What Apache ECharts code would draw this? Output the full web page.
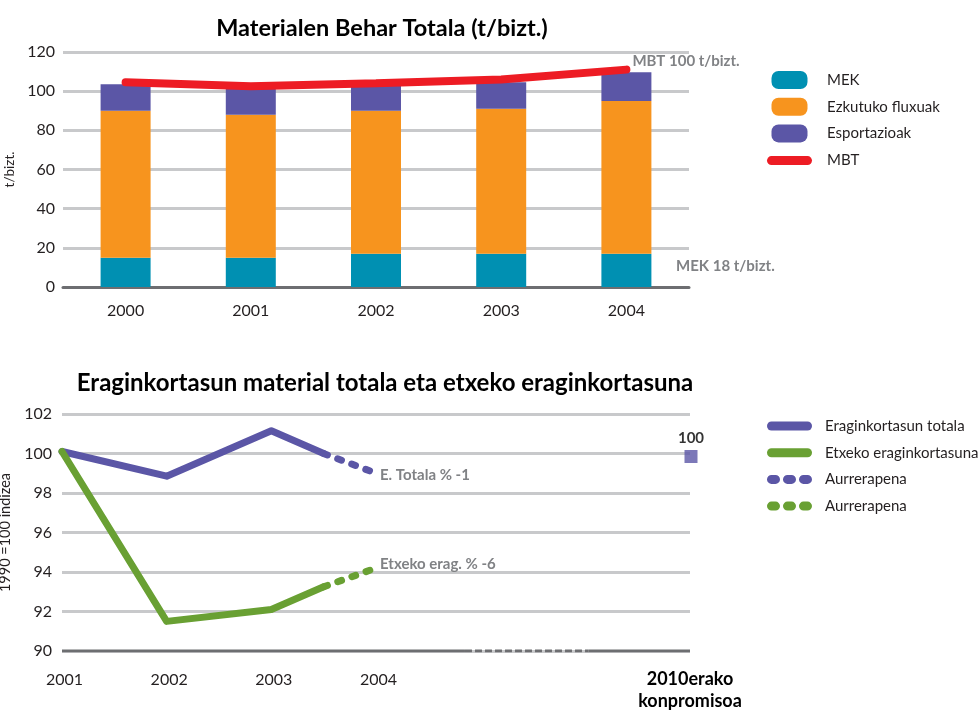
<!DOCTYPE html>
<html>
<head>
<meta charset="utf-8">
<script src="https://cdn.jsdelivr.net/npm/echarts@6/dist/echarts.min.js"></script>
<style>
  html, body { margin: 0; padding: 0; background: #fff; }
  #main { width: 979px; height: 711px; }
</style>
</head>
<body>
<div id="main"></div>
<script>
// --- top chart data (t/bizt.)
const years = ['2000', '2001', '2002', '2003', '2004'];
const mek = [15, 15, 17, 17, 17];
const ezkutuko = [75, 73, 73, 74, 78];
const esportazioak = [13.5, 14, 13.5, 13.5, 14.6];
const mbt = [104.5, 102.5, 104, 106, 111];

// --- bottom chart data (1990 = 100 index), x = index into effLabels
const effLabels = ['2001', '2002', '2003', '2004', '', '', '2010erako\nkonpromisoa'];
const totala = [[0, 100.1], [1, 98.85], [2, 101.15], [2.5, 100.0]];
const totalaProgress = [[2.5, 100.0], [3, 99.0]];
const etxeko = [[0, 100.1], [1, 91.5], [2, 92.1], [2.5, 93.25]];
const etxekoProgress = [[2.5, 93.25], [3, 94.2]];
const target2010 = [[6, 100]];

const FONT = 'Lato';
const GRID_GRAY = '#c8c9cb';
const AXIS_GRAY = '#6d6e71';
const LABEL_GRAY = '#808285';
const TEXT = '#231f20';
const C_MEK = '#0090b2';
const C_EZK = '#f7941e';
const C_ESP = '#5b56a6';
const C_MBT = '#ed1c24';
const C_GREEN = '#69a033';

// legend icons (45 wide boxes; the leading moves fix the bounding box)
const ICON_BOX = 'path://M0,0M45,18M11.5,0H33.5A7,7,0,0,1,40.5,7V11A7,7,0,0,1,33.5,18H11.5A7,7,0,0,1,4.5,11V7A7,7,0,0,1,11.5,0Z';
const ICON_BAR = 'path://M0,0M45,18M4.5,5H40.5A4.5,4.5,0,0,1,40.5,14H4.5A4.5,4.5,0,0,1,4.5,5Z';
const ICON_PILL = 'path://M4.5,0H40.5A4.5,4.5,0,0,1,40.5,9H4.5A4.5,4.5,0,0,1,4.5,0Z';
const ICON_DOTS = 'path://M4.5,0H8.5A4.5,4.5,0,0,1,8.5,9H4.5A4.5,4.5,0,0,1,4.5,0Z' +
  'M20.5,0H24.5A4.5,4.5,0,0,1,24.5,9H20.5A4.5,4.5,0,0,1,20.5,0Z' +
  'M36.5,0H40.5A4.5,4.5,0,0,1,40.5,9H36.5A4.5,4.5,0,0,1,36.5,0Z';

const chart = echarts.init(document.getElementById('main'));

const option = {
  animation: false,
  textStyle: { fontFamily: FONT },
  title: [
    {
      text: 'Materialen Behar Totala (t/bizt.)',
      left: 377, top: 11, textAlign: 'center',
      textStyle: { fontFamily: FONT, fontSize: 23.5, fontWeight: 'bold', color: '#000' }
    },
    {
      text: 'Eraginkortasun material totala eta etxeko eraginkortasuna',
      left: 380, top: 366, textAlign: 'center',
      textStyle: { fontFamily: FONT, fontSize: 24, fontWeight: 'bold', color: '#000' }
    }
  ],
  legend: [
    {
      orient: 'vertical', left: 762, top: 66,
      itemWidth: 45, itemHeight: 18, itemGap: 8.7,
      data: [
        { name: 'MEK', icon: ICON_BOX },
        { name: 'Ezkutuko fluxuak', icon: ICON_BOX },
        { name: 'Esportazioak', icon: ICON_BOX },
        { name: 'MBT', icon: ICON_BAR }
      ],
      itemStyle: { borderWidth: 0 },
      textStyle: { fontFamily: FONT, fontSize: 15, color: TEXT, padding: [0, 0, 0, 10] }
    },
    {
      orient: 'vertical', left: 762, top: 412,
      itemWidth: 45, itemHeight: 9, itemGap: 8.7,
      data: [
        { name: 'Eraginkortasun totala', icon: ICON_PILL },
        { name: 'Etxeko eraginkortasuna', icon: ICON_PILL },
        { name: 'Aurrerapena 1', icon: ICON_DOTS },
        { name: 'Aurrerapena 2', icon: ICON_DOTS }
      ],
      itemStyle: { borderWidth: 0 },
      formatter: name => name.replace(/ \d$/, ''),
      textStyle: { fontFamily: FONT, fontSize: 15, color: TEXT, lineHeight: 18, padding: [0, 0, 0, 8] }
    }
  ],
  grid: [
    { left: 63, right: 290, top: 52, height: 235, outerBoundsMode: 'none' },
    { left: 62, right: 289, top: 414, height: 237, outerBoundsMode: 'none' }
  ],
  xAxis: [
    {
      gridIndex: 0, type: 'category', data: years,
      axisLine: { lineStyle: { color: AXIS_GRAY, width: 3 } },
      axisTick: { show: false },
      axisLabel: { fontFamily: FONT, fontSize: 16, color: TEXT, margin: 16 }
    },
    {
      gridIndex: 1, type: 'value', min: 0, max: 6, interval: 1,
      axisLine: { show: false },
      axisTick: { show: false },
      splitLine: { show: false },
      axisLabel: {
        margin: 17,
        formatter: v => {
          const s = effLabels[v] || '';
          if (s.indexOf('\n') >= 0) return s.split('\n').map(t => '{b|' + t + '}').join('\n');
          return s ? '{y|' + s + '}' : '';
        },
        rich: {
          y: { fontFamily: FONT, fontSize: 16, color: TEXT, lineHeight: 24, padding: [0, 0, 0, 5] },
          b: { fontFamily: FONT, fontSize: 18, fontWeight: 'bold', color: '#000', lineHeight: 22 }
        }
      }
    }
  ],
  yAxis: [
    {
      gridIndex: 0, type: 'value', min: 0, max: 120, interval: 20,
      name: 't/bizt.', nameLocation: 'middle', nameGap: 39, nameRotate: 90,
      nameTextStyle: { fontFamily: FONT, fontSize: 13.5, color: TEXT },
      axisLine: { show: false }, axisTick: { show: false },
      axisLabel: { fontFamily: FONT, fontSize: 16, color: TEXT, margin: 8 },
      splitLine: { lineStyle: { color: GRID_GRAY, width: 3 } }
    },
    {
      gridIndex: 1, type: 'value', min: 90, max: 102, interval: 2,
      name: '1990 =100 indizea', nameLocation: 'middle', nameGap: 47, nameRotate: 90,
      nameTextStyle: { fontFamily: FONT, fontSize: 14.5, color: TEXT },
      axisLine: { show: false }, axisTick: { show: false },
      axisLabel: { fontFamily: FONT, fontSize: 16, color: TEXT, margin: 10 },
      splitLine: { lineStyle: { color: GRID_GRAY, width: 3 } }
    }
  ],
  graphic: [
    {
      type: 'text', left: 676, top: 259,
      style: { text: 'MEK 18 t/bizt.', fontFamily: FONT, fontSize: 15, fontWeight: 'bold', fill: LABEL_GRAY }
    }
  ],
  series: [
    { name: 'MEK', type: 'bar', stack: 'mbt', barWidth: 50, data: mek, itemStyle: { color: C_MEK } },
    { name: 'Ezkutuko fluxuak', type: 'bar', stack: 'mbt', data: ezkutuko, itemStyle: { color: C_EZK } },
    { name: 'Esportazioak', type: 'bar', stack: 'mbt', data: esportazioak, itemStyle: { color: C_ESP } },
    {
      name: 'MBT', type: 'line', data: mbt, symbol: 'none',
      lineStyle: { color: C_MBT, width: 8, cap: 'round' }, itemStyle: { color: C_MBT },
      endLabel: {
        show: true, formatter: 'MBT 100 t/bizt.', offset: [-2, -8],
        fontFamily: FONT, fontSize: 15, fontWeight: 'bold', color: LABEL_GRAY
      }
    },
    // axis line at 90 (solid / dashed / solid)
    {
      type: 'line', xAxisIndex: 1, yAxisIndex: 1, silent: true, symbol: 'none', z: 1,
      data: [[0, 90], [3.85, 90]], lineStyle: { color: AXIS_GRAY, width: 3 }
    },
    {
      type: 'line', xAxisIndex: 1, yAxisIndex: 1, silent: true, symbol: 'none', z: 1,
      data: [[3.85, 90], [5.03, 90]], lineStyle: { color: AXIS_GRAY, width: 3, type: [7, 3] }
    },
    {
      type: 'line', xAxisIndex: 1, yAxisIndex: 1, silent: true, symbol: 'none', z: 1,
      data: [[5.03, 90], [6, 90]], lineStyle: { color: AXIS_GRAY, width: 3 }
    },
    {
      name: 'Eraginkortasun totala', type: 'line', xAxisIndex: 1, yAxisIndex: 1,
      data: totala, symbol: 'none', itemStyle: { color: C_ESP },
      lineStyle: { color: C_ESP, width: 7, cap: 'round', join: 'round' }
    },
    {
      name: 'Etxeko eraginkortasuna', type: 'line', xAxisIndex: 1, yAxisIndex: 1,
      data: etxeko, symbol: 'none', itemStyle: { color: C_GREEN },
      lineStyle: { color: C_GREEN, width: 7, cap: 'round', join: 'round' }
    },
    {
      name: 'Aurrerapena 1', type: 'line', xAxisIndex: 1, yAxisIndex: 1,
      data: totalaProgress, symbol: 'none', itemStyle: { color: C_ESP },
      lineStyle: { color: C_ESP, width: 7, cap: 'round', type: [4, 11] },
      endLabel: {
        show: true, formatter: 'E. Totala % -1', offset: [-4, 2],
        fontFamily: FONT, fontSize: 15, fontWeight: 'bold', color: LABEL_GRAY
      }
    },
    {
      name: 'Aurrerapena 2', type: 'line', xAxisIndex: 1, yAxisIndex: 1,
      data: etxekoProgress, symbol: 'none', itemStyle: { color: C_GREEN },
      lineStyle: { color: C_GREEN, width: 7, cap: 'round', type: [4, 11] },
      endLabel: {
        show: true, formatter: 'Etxeko erag. % -6', offset: [-4, -4],
        fontFamily: FONT, fontSize: 15, fontWeight: 'bold', color: LABEL_GRAY
      }
    },
    {
      type: 'scatter', xAxisIndex: 1, yAxisIndex: 1, data: target2010,
      symbol: 'rect', symbolSize: 13, symbolOffset: [1, 3],
      itemStyle: { color: C_ESP },
      label: {
        show: true, position: 'top', distance: 4, formatter: '100',
        fontFamily: FONT, fontSize: 15, fontWeight: 'bold', color: '#000'
      }
    }
  ]
};

chart.setOption(option);
</script>
</body>
</html>
